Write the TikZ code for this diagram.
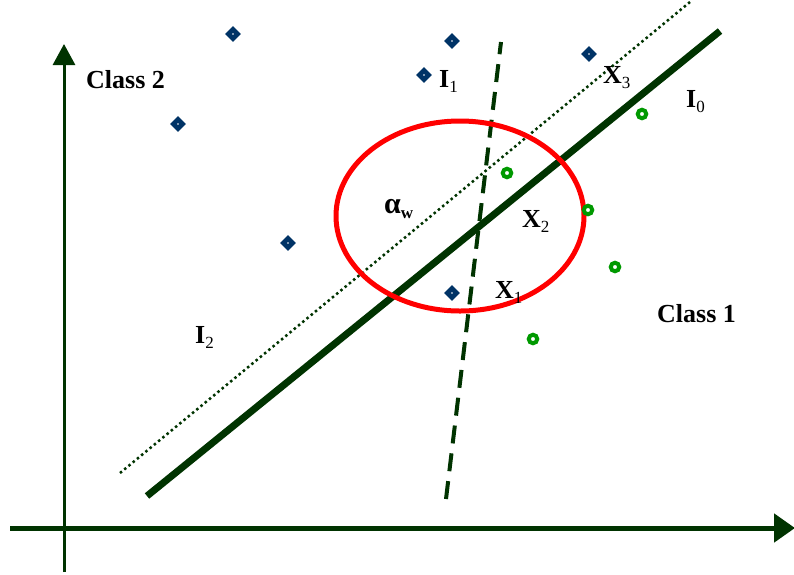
\documentclass[tikz,border=0pt]{standalone}
\usepackage{fontspec}
\setmainfont{Liberation Serif}
\usetikzlibrary{arrows.meta,shapes.geometric}
\definecolor{axgreen}{HTML}{003300}
\definecolor{ptblue}{HTML}{003366}
\definecolor{ptgreen}{HTML}{009900}
\newcommand\sbs[1]{\raisebox{-5pt}{\fontsize{17}{17}\selectfont\mdseries #1}}
\tikzset{
  lbl/.style={anchor=base west, inner sep=0pt, font=\fontsize{26}{30}\selectfont\bfseries, text=black},
  diam/.style={diamond, fill=ptblue, minimum size=16pt, inner sep=0pt, path picture={\fill[white] (path picture bounding box.center) circle (0.8pt);}},
  circ/.style={circle, draw=ptgreen, line width=4pt, fill=white, minimum size=8.5pt, inner sep=0pt},
  axis/.style={draw=axgreen, -{Triangle[length=21pt,width=24pt]}},
}
\begin{document}
\begin{tikzpicture}[x=1pt,y=-1pt]
\useasboundingbox (0,0) rectangle (794,574);
% axes
\coordinate (vb) at (64,572);
\coordinate (vt) at (64,44);
\coordinate (hl) at (10,528);
\coordinate (hr) at (795,528);
\draw[axis, line width=3pt, -{Triangle[length=21pt,width=22pt]}] (vb) -- (vt);
\draw[axis, line width=5pt, -{Triangle[length=21pt,width=28pt]}] (hl) -- (hr);
% lines
\coordinate (sa) at (147,496);
\coordinate (sb) at (720,31);
\coordinate (da) at (120,473);
\coordinate (db) at (690,2);
\coordinate (ka) at (446,499);
\coordinate (kb) at (501,42);
\draw[axgreen, line width=2.5pt, dash pattern=on 2.5pt off 3pt] (da) -- (db);
\draw[axgreen, line width=7pt] (sa) -- (sb);
\draw[axgreen, line width=4pt, dash pattern=on 18pt off 10pt] (ka) -- (kb);
% ellipse
\coordinate (ec) at (460,216);
\draw[red, line width=5pt] (ec) ellipse [x radius=124, y radius=95];
% class 2 points
\node[diam] (p1) at (233,34) {};
\node[diam] (p2) at (452,41) {};
\node[diam] (p3) at (424,75) {};
\node[diam] (p4) at (589,54) {};
\node[diam] (p5) at (178,124) {};
\node[diam] (p6) at (288,243) {};
\node[diam] (p7) at (452,293) {};
% class 1 points
\node[circ] (q1) at (642,114) {};
\node[circ] (q2) at (507,173) {};
\node[circ] (q3) at (588,210) {};
\node[circ] (q4) at (615,267) {};
\node[circ] (q5) at (533,339) {};
% labels
\node[lbl] (c2) at (86,88) {Class 2};
\node[lbl] (c1) at (657,322) {Class 1};
\node[lbl] (i1) at (439,87) {I\sbs{1}};
\node[lbl] (x3) at (603,83) {X\sbs{3}};
\node[lbl] (i0) at (686,107) {I\sbs{0}};
\node[lbl] (aw) at (384,213) {{\fontsize{30}{30}\selectfont α}\sbs{\bfseries w}};
\node[lbl] (x2) at (522,227) {X\sbs{2}};
\node[lbl] (x1) at (495,298) {X\sbs{1}};
\node[lbl] (i2) at (195,343) {I\sbs{2}};
\end{tikzpicture}
\end{document}
